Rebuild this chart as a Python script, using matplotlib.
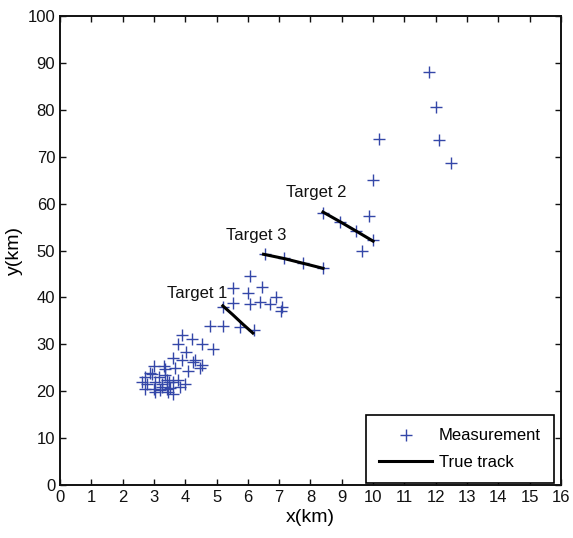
import matplotlib
matplotlib.use("Agg")
import matplotlib.pyplot as plt

plt.rcParams['font.family'] = ['Liberation Sans', 'DejaVu Sans']

meas_x = [11.8, 12.0, 12.1, 12.5, 10.2, 10.0,
          8.4, 8.95, 9.45, 9.86, 10.0, 9.63,
          6.55, 7.15, 7.75, 8.4,
          6.07, 5.53, 6.45, 6.0, 5.2, 5.53, 6.07, 6.39, 6.7, 6.9, 7.1, 7.05,
          4.8, 5.2, 5.75, 6.2, 3.9, 4.22,
          3.78, 4.54, 4.89, 4.02, 3.6, 3.9, 4.25, 4.31, 4.54, 4.47,
          2.99, 3.31, 3.67, 4.09, 3.35,
          2.71, 2.94, 3.15, 3.35, 2.78, 3.03, 3.26, 3.47, 2.71, 2.99, 3.2, 3.41, 2.62,
          3.41, 3.61, 3.78, 3.25, 3.51, 3.83, 3.45, 4.0, 3.05, 3.6, 2.87]
meas_y = [88.0, 80.6, 73.5, 68.7, 73.8, 65.0,
          58.0, 56.0, 54.2, 57.3, 52.2, 50.0,
          49.2, 48.5, 47.4, 46.2,
          44.6, 42.0, 42.2, 40.9, 38.0, 38.8, 38.6, 39.0, 38.6, 40.1, 38.0, 37.0,
          33.8, 33.8, 33.6, 33.0, 32.0, 31.1,
          30.0, 30.0, 29.0, 28.3, 27.1, 26.7, 26.3, 26.7, 25.6, 25.0,
          25.3, 25.4, 25.0, 24.3, 24.7,
          23.0, 23.7, 23.0, 23.4, 21.5, 22.0, 21.5, 22.0, 20.5, 20.5, 20.3, 20.5, 22.0,
          22.4, 22.0, 22.4, 20.9, 20.7, 20.9, 19.8, 21.5, 19.8, 19.4, 23.9]

track1_x = [5.2, 5.52, 5.84, 6.16]
track1_y = [38.2, 36.3, 34.3, 32.4]
track2_x = [8.4, 8.93, 9.47, 10.0]
track2_y = [58.2, 56.2, 54.1, 52.0]
track3_x = [6.5, 7.15, 7.75, 8.4]
track3_y = [49.2, 48.3, 47.3, 46.2]

labels = ["Target 1", "Target 2", "Target 3"]
label_x = [4.38, 8.2, 6.26]
label_y = [40.9, 62.3, 53.1]

fig = plt.figure(figsize=(5.73, 5.38), dpi=100)
ax = fig.add_axes([0.1047, 0.0985, 0.8743, 0.8717])

ax.plot(meas_x, meas_y, '+', color='#3447a8', markersize=9, markeredgewidth=1.0,
        label='Measurement', zorder=3)
ax.plot(track1_x, track1_y, '-', color='black', lw=2.2, label='True track', zorder=4)
ax.plot(track2_x, track2_y, '-', color='black', lw=2.2, zorder=4)
ax.plot(track3_x, track3_y, '-', color='black', lw=2.2, zorder=4)

for t, x, y in zip(labels, label_x, label_y):
    ax.text(x, y, t, fontsize=12, ha='center', va='center', color='#111111')

ax.set_xlim(0, 16)
ax.set_ylim(0, 100)
ax.set_xticks(range(0, 17))
ax.set_yticks(range(0, 101, 10))
ax.tick_params(direction='in', top=True, right=True, length=4, width=1,
               labelsize=12, colors='#111111')
for s in ax.spines.values():
    s.set_linewidth(1.4)
    s.set_color('#111111')
ax.set_xlabel('x(km)', fontsize=14, labelpad=3)
ax.set_ylabel('y(km)', fontsize=14, labelpad=3)

leg = ax.legend(loc='lower right', bbox_to_anchor=(0.99, 0.0), fontsize=12,
                fancybox=False, framealpha=1, edgecolor='black',
                borderpad=0.8, handlelength=3.2, handletextpad=0.4, labelspacing=0.7,
                borderaxespad=0.1)
leg.get_frame().set_linewidth(1.2)

fig.savefig('out.png', dpi=100)
